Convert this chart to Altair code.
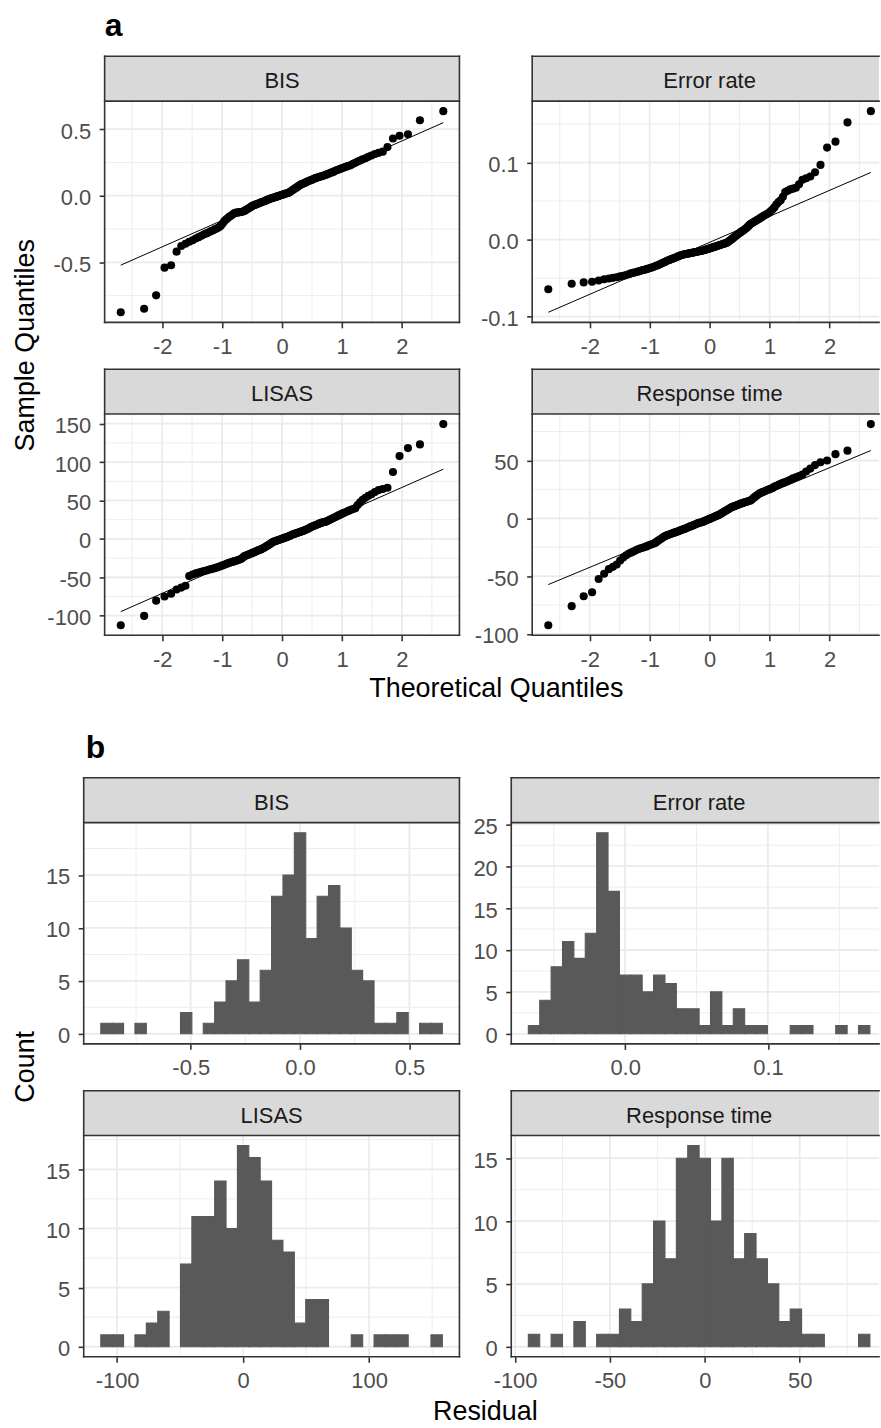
import math
from statistics import NormalDist

import numpy as np
import pandas as pd
import altair as alt

# Model residuals for each outcome measure, one value per participant (n = 140).
BIS = [
    -0.875, -0.848, -0.748, -0.540, -0.522, -0.420,
    -0.377, -0.361, -0.346,
    -0.334, -0.321, -0.311, -0.301, -0.290,
    -0.283, -0.275, -0.266, -0.259, -0.251, -0.244, -0.237,
    -0.226, -0.209, -0.191,
    -0.178, -0.169, -0.158, -0.151, -0.143, -0.134,
    -0.128, -0.127, -0.125, -0.124, -0.122, -0.120, -0.117, -0.112, -0.106, -0.100, -0.094, -0.088, -0.082,
    -0.076, -0.072, -0.069, -0.065, -0.062, -0.058, -0.055, -0.051, -0.048, -0.045, -0.041, -0.038, -0.035, -0.031, -0.028,
    -0.024, -0.021, -0.019, -0.016, -0.013, -0.011, -0.008, -0.005, -0.003, 0.000,
    0.003, 0.006, 0.008, 0.011, 0.013, 0.016, 0.019, 0.021, 0.024,
    0.030, 0.035, 0.041, 0.046, 0.052, 0.057, 0.063, 0.068, 0.074,
    0.081, 0.085, 0.089, 0.092, 0.096, 0.100, 0.104, 0.108, 0.112, 0.116, 0.119, 0.123, 0.127,
    0.132, 0.135, 0.138, 0.141, 0.144, 0.147, 0.150, 0.154, 0.158, 0.162, 0.166, 0.170, 0.175, 0.179,
    0.186, 0.191, 0.195, 0.200, 0.205, 0.210, 0.215, 0.220, 0.225, 0.230,
    0.240, 0.248, 0.257, 0.265, 0.273, 0.281,
    0.292, 0.302, 0.313, 0.322, 0.331,
    0.365, 0.430, 0.450, 0.462, 0.567, 0.635,
]

ERROR_RATE = [
    -0.0645,
    -0.0574, -0.0556, -0.0547, -0.0531,
    -0.0514, -0.0506, -0.0497, -0.0489, -0.0478, -0.0469, -0.0461, -0.0449,
    -0.0436, -0.0429, -0.0421, -0.0413, -0.0404, -0.0397, -0.0391, -0.0384, -0.0377, -0.0369, -0.0362,
    -0.0354, -0.0347, -0.0337, -0.0329, -0.0321, -0.0310, -0.0302, -0.0294, -0.0285,
    -0.0276, -0.0269, -0.0262, -0.0254, -0.0249, -0.0241, -0.0236, -0.0229, -0.0221, -0.0216, -0.0208, -0.0203,
    -0.0197, -0.0194, -0.0190, -0.0188, -0.0184, -0.0181, -0.0179, -0.0175, -0.0172, -0.0170, -0.0166, -0.0163,
    -0.0161, -0.0157, -0.0154, -0.0152, -0.0148, -0.0145, -0.0141, -0.0138, -0.0135, -0.0130, -0.0127, -0.0123,
    -0.0118, -0.0113, -0.0108, -0.0104, -0.0099, -0.0095, -0.0089, -0.0086, -0.0080, -0.0076, -0.0071, -0.0067,
    -0.0061, -0.0057, -0.0053, -0.0047, -0.0043,
    -0.0034, -0.0025, -0.0012, -0.0003, 0.0009, 0.0022, 0.0032,
    0.0047, 0.0057, 0.0071, 0.0081, 0.0093, 0.0106, 0.0115,
    0.0128, 0.0141, 0.0154, 0.0171, 0.0187,
    0.0204, 0.0216, 0.0224, 0.0237, 0.0246, 0.0259, 0.0271,
    0.0286, 0.0296, 0.0311, 0.0321, 0.0336, 0.0349,
    0.0371, 0.0394, 0.0421,
    0.0459, 0.0488, 0.0511,
    0.0556,
    0.0616, 0.0633, 0.0651, 0.0661, 0.0673,
    0.0719,
    0.0776, 0.0796, 0.0819,
    0.0874, 0.0969, 0.1194, 0.1271, 0.1521, 0.1667,
]

LISAS = [
    -112.5, -100.4, -80.5, -75.0, -71.5, -66.0, -63.5, -61.0,
    -48.5, -46.5, -45.0, -44.0, -43.0, -42.0, -41.2,
    -40.2, -39.5, -38.8, -38.0, -37.2, -36.4, -35.5, -34.6, -33.7, -32.8, -32.0,
    -31.2, -30.6, -30.0, -29.4, -28.8, -28.2, -27.6, -27.0, -26.2, -25.0, -23.4,
    -22.2, -21.6, -21.0, -20.3, -19.6, -19.0, -18.3, -17.6, -17.0, -16.3, -15.6, -15.0, -14.4, -13.8,
    -13.1, -12.3, -11.5, -10.7, -9.8, -9.0, -8.1, -7.2, -6.2, -5.2,
    -4.1, -3.6, -3.1, -2.6, -2.1, -1.6, -1.1, -0.6, -0.1, 0.4, 0.9, 1.4, 1.9, 2.4, 2.9, 3.4, 3.9,
    4.9, 5.5, 6.0, 6.5, 7.0, 7.5, 8.0, 8.5, 9.0, 9.5, 10.0, 10.6, 11.2, 11.8, 12.4, 13.0,
    14.2, 14.9, 15.6, 16.3, 17.0, 17.7, 18.4, 19.1, 19.8, 20.5, 21.1, 21.6, 22.0, 22.4,
    23.2, 24.2, 25.2, 26.2, 27.2, 28.2, 29.2, 30.2, 31.2,
    32.5, 33.5, 34.5, 35.6, 36.7, 37.8, 38.9, 40.0,
    44.0, 47.5,
    51.0, 53.5, 56.0, 58.0,
    61.0, 63.5, 65.0, 66.5,
    87.0, 107.8, 118.2, 123.0, 149.5,
]

RESPONSE_TIME = [
    -92.5, -76.0, -67.5, -64.0, -52.5, -48.0,
    -44.0, -42.0, -40.0, -36.5, -34.0,
    -32.0, -30.5, -29.5, -28.5, -27.5,
    -26.6, -26.0, -25.5, -24.9, -24.3, -23.6, -23.0, -22.4, -21.8, -21.3,
    -20.2, -19.3, -18.4, -17.5, -16.6, -15.8, -15.3,
    -14.6, -14.2, -13.8, -13.4, -13.0, -12.6, -12.2, -11.8, -11.4, -11.0, -10.6, -10.2, -9.8, -9.5, -9.2,
    -8.6, -8.2, -7.8, -7.4, -7.0, -6.6, -6.2, -5.8, -5.4, -5.0, -4.6, -4.2, -3.9, -3.6, -3.4, -3.2,
    -2.7, -2.3, -1.9, -1.5, -1.1, -0.7, -0.3, 0.1, 0.5, 0.9, 1.3, 1.7, 2.1, 2.5, 2.8,
    3.5, 4.0, 4.6, 5.2, 5.8, 6.3, 6.9, 7.4, 8.0, 8.6,
    9.3, 9.7, 10.1, 10.5, 10.9, 11.3, 11.7, 12.1, 12.5, 12.9, 13.3, 13.7, 14.0, 14.3, 14.7,
    15.1, 15.4, 16.5, 17.5, 18.5, 19.5, 20.4,
    21.4, 22.0, 22.6, 23.2, 23.8, 24.4, 25.0, 25.6, 26.3,
    27.4, 28.2, 29.0, 29.8, 30.6, 31.4, 32.3,
    33.4, 34.5, 35.5, 36.5, 37.8,
    40.5, 43.0, 46.0, 48.5, 50.0, 55.5, 58.5, 81.5,
]

MEASURES = ["BIS", "Error rate", "LISAS", "Response time"]
RESIDUALS = dict(zip(MEASURES, [BIS, ERROR_RATE, LISAS, RESPONSE_TIME]))

QQ_X_TICKS = [-2, -1, 0, 1, 2]
QQ_Y_TICKS = {
    "BIS": [-0.5, 0.0, 0.5],
    "Error rate": [-0.1, 0.0, 0.1],
    "LISAS": [-100, -50, 0, 50, 100, 150],
    "Response time": [-100, -50, 0, 50],
}
HIST_X_TICKS = {
    "BIS": [-0.5, 0.0, 0.5],
    "Error rate": [0.0, 0.1],
    "LISAS": [-100, 0, 100],
    "Response time": [-100, -50, 0, 50],
}
HIST_Y_TICKS = {
    "BIS": [0, 5, 10, 15],
    "Error rate": [0, 5, 10, 15, 20, 25],
    "LISAS": [0, 5, 10, 15],
    "Response time": [0, 5, 10, 15],
}
VALUE_FORMAT = {"BIS": ".1f", "Error rate": ".1f", "LISAS": "d", "Response time": "d"}
N_BINS = 30

FONT = "Liberation Sans"
INK = "#333333"
LABEL_INK = "#4D4D4D"
STRIP_INK = "#1A1A1A"
GRID = "#EBEBEB"
STRIP_FILL = "#D9D9D9"
BAR_FILL = "#595959"
STRIP_H = 45
TICK_FONT = 22
TITLE_FONT = 27

NORMAL = NormalDist()
ONE = pd.DataFrame({"k": [0]})


def expand(lo, hi, mult=0.05):
    pad = (hi - lo) * mult
    return [float(lo - pad), float(hi + pad)]


def qq_points(values):
    y = np.sort(np.asarray(values, dtype=float))
    n = y.size
    x = np.array([NORMAL.inv_cdf((i + 0.5) / n) for i in range(n)])
    return pd.DataFrame({"x": x, "y": y})


def qq_line(values, x_lo, x_hi):
    q1, q3 = np.quantile(np.asarray(values, dtype=float), [0.25, 0.75])
    z1, z3 = NORMAL.inv_cdf(0.25), NORMAL.inv_cdf(0.75)
    slope = (q3 - q1) / (z3 - z1)
    intercept = q1 - slope * z1
    xs = np.array([x_lo, x_hi])
    return pd.DataFrame({"x": xs, "y": intercept + slope * xs})


def histogram(values, bins=N_BINS):
    """Bins of width range/(bins-1) aligned on half-widths, right-closed."""
    v = np.asarray(values, dtype=float)
    lo, hi = v.min(), v.max()
    width = (hi - lo) / (bins - 1)
    boundary = width / 2
    origin = boundary + math.floor((lo - boundary) / width) * width
    last = hi + (1 - 1e-8) * width
    n_breaks = int(math.floor((last - origin) / width + 1e-10)) + 1
    breaks = origin + width * np.arange(n_breaks)
    idx = np.clip(np.searchsorted(breaks, v, side="left") - 1, 0, n_breaks - 2)
    counts = np.bincount(idx, minlength=n_breaks - 1)
    df = pd.DataFrame({"x": breaks[:-1], "x2": breaks[1:], "y": counts, "y0": 0})
    return df[df["y"] > 0], float(breaks[0]), float(breaks[-1]), int(counts.max())


def minor_breaks(ticks, dom):
    step = ticks[1] - ticks[0]
    cands = [ticks[0] - step / 2 + k * step for k in range(len(ticks) + 1)]
    return [c for c in cands if dom[0] <= c <= dom[1]]


def in_domain(ticks, dom):
    return [t for t in ticks if dom[0] <= t <= dom[1]]


def make_axis(values, fmt, orient, shift=0):
    opts = dict(
        values=values, format=fmt,
        labelExpr="replace(datum.label, '\u2212', '-')",
        grid=False, domain=False, ticks=True, tickColor=INK, tickWidth=1.6, tickSize=5.5,
        labelFont=FONT, labelFontSize=TICK_FONT, labelColor=LABEL_INK,
        labelFlush=False, labelOverlap=False, title=None,
    )
    if orient == "x":
        opts.update(labelPadding=8.5)
    else:
        opts.update(labelPadding=8.5, labelOffset=2, offset=-shift)
    return alt.Axis(**opts)


def text_layer(text, x, y, size, weight="normal", angle=0, color="black", align="center"):
    return alt.Chart(pd.DataFrame({"t": [text]})).mark_text(
        font=FONT, fontSize=size, fontWeight=weight, angle=angle, color=color,
        align=align, baseline="alphabetic",
    ).encode(text="t:N", x=alt.value(x), y=alt.value(y))


def segment(x1, y1, x2, y2):
    return alt.Chart(ONE).mark_rule(color=INK, strokeWidth=1.6, strokeCap="square").encode(
        x=alt.value(x1), x2=alt.value(x2), y=alt.value(y1), y2=alt.value(y2)
    )


def panel(name, kind, cell_w, x0, full_w, height, right_border, strip_base, extras=()):
    """One facet: plot drawn between x0 and cell_w inside its cell; full_w is the uncut panel width."""
    vals = RESIDUALS[name]
    if kind == "qq":
        pts = qq_points(vals)
        line = qq_line(vals, pts["x"].min(), pts["x"].max())
        xdom = expand(pts["x"].min(), pts["x"].max())
        ydom = expand(min(pts["y"].min(), line["y"].min()), max(pts["y"].max(), line["y"].max()))
        xt, yt = QQ_X_TICKS, QQ_Y_TICKS[name]
        xfmt, yfmt = "d", VALUE_FORMAT[name]
    else:
        bars, lo, hi, top = histogram(vals)
        xdom = expand(lo, hi)
        ydom = expand(0, top)
        xt, yt = HIST_X_TICKS[name], HIST_Y_TICKS[name]
        xfmt, yfmt = VALUE_FORMAT[name], "d"
    vis_w = cell_w - x0
    # a panel narrower than its full width shows only the left part of its range
    xdom = [xdom[0], xdom[0] + (xdom[1] - xdom[0]) * vis_w / full_w]
    xs = alt.Scale(domain=xdom, range=[x0, cell_w], nice=False, zero=False)
    ys = alt.Scale(domain=ydom, nice=False, zero=False)
    xax = make_axis(xt, xfmt, "x")
    yax = make_axis(yt, yfmt, "y", shift=x0)

    def X():
        return alt.X("x:Q", scale=xs, axis=xax)

    def Y():
        return alt.Y("y:Q", scale=ys, axis=yax)

    # grid lines (minor thin, major thicker), kept inside the visible panel
    layers = [
        alt.Chart(pd.DataFrame({"x": minor_breaks(xt, xdom)})).mark_rule(
            color=GRID, strokeWidth=0.9).encode(x=X()),
        alt.Chart(pd.DataFrame({"x": in_domain(xt, xdom)})).mark_rule(
            color=GRID, strokeWidth=1.8).encode(x=X()),
        alt.Chart(pd.DataFrame({"y": minor_breaks(yt, ydom)})).mark_rule(
            color=GRID, strokeWidth=0.9).encode(y=Y(), x=alt.value(x0), x2=alt.value(cell_w)),
        alt.Chart(pd.DataFrame({"y": in_domain(yt, ydom)})).mark_rule(
            color=GRID, strokeWidth=1.8).encode(y=Y(), x=alt.value(x0), x2=alt.value(cell_w)),
    ]
    if kind == "qq":
        layers.append(
            alt.Chart(pts).mark_circle(size=66, color="black", opacity=1).encode(x=X(), y=Y())
        )
        layers.append(alt.Chart(line).mark_line(color="black", strokeWidth=1).encode(x=X(), y=Y()))
    else:
        layers.append(
            alt.Chart(bars).mark_rect(
                color=BAR_FILL, stroke=BAR_FILL, strokeWidth=1.1, opacity=1,
                fillOpacity=1, strokeOpacity=1,
            ).encode(x=X(), x2="x2:Q", y=Y(), y2="y0:Q")
        )
    # facet strip
    layers.append(
        alt.Chart(ONE).mark_rect(color=STRIP_FILL, opacity=1).encode(
            x=alt.value(x0), x2=alt.value(cell_w), y=alt.value(-STRIP_H), y2=alt.value(0))
    )
    layers.append(text_layer(name, x0 + full_w / 2, strip_base, TICK_FONT, color=STRIP_INK))
    # panel and strip borders
    layers += [
        segment(x0, -STRIP_H, cell_w, -STRIP_H),
        segment(x0, 0, cell_w, 0),
        segment(x0, height, cell_w, height),
        segment(x0, -STRIP_H, x0, height),
    ]
    if right_border:
        layers.append(segment(cell_w, -STRIP_H, cell_w, height))
    layers += list(extras)
    return alt.layer(*layers).properties(width=cell_w, height=height)


LEFT_W, RIGHT_W = 377, 369
COL_GAP, ROW_GAP = 52, 92
QQ_SHIFT, QQ_FULL, HIST_FULL = 21, 356, 377
ROW_H = 222

# Section a: normal Q-Q plots
a_bis = panel("BIS", "qq", LEFT_W, QQ_SHIFT, QQ_FULL, ROW_H, True, -13, extras=[
    alt.Chart(ONE).mark_rect(color="white").encode(
        x=alt.value(-83), x2=alt.value(-82), y=alt.value(-98), y2=alt.value(-97)),
    text_layer("a", QQ_SHIFT, -65, 32, weight="bold", align="left"),
    text_layer("Sample Quantiles", -50, 245, TITLE_FONT, angle=270),
])
a_err = panel("Error rate", "qq", RIGHT_W, QQ_SHIFT, QQ_FULL, ROW_H, False, -13)
a_lis = panel("LISAS", "qq", LEFT_W, QQ_SHIFT, QQ_FULL, ROW_H, True, -13, extras=[
    text_layer("Theoretical Quantiles", 414, 284, TITLE_FONT),
])
a_rt = panel("Response time", "qq", RIGHT_W, QQ_SHIFT, QQ_FULL, ROW_H, False, -13)

# Section b: histograms of the residuals
b_bis = panel("BIS", "hist", LEFT_W, 0, HIST_FULL, ROW_H, True, -12.5, extras=[
    text_layer("b", 2, -65, 32, weight="bold", align="left"),
    text_layer("Count", -50, 245, TITLE_FONT, angle=270),
])
b_err = panel("Error rate", "hist", RIGHT_W, 0, HIST_FULL, ROW_H, False, -12.5)
b_lis = panel("LISAS", "hist", LEFT_W, 0, HIST_FULL, ROW_H, True, -12.5, extras=[
    text_layer("Residual", 403, 285, TITLE_FONT),
])
b_rt = panel("Response time", "hist", RIGHT_W, 0, HIST_FULL, ROW_H, False, -12.5)


def gap_cell():
    return alt.Chart(ONE).mark_point(opacity=0).encode(
        x=alt.value(0), y=alt.value(0)).properties(width=1, height=4)


chart = alt.concat(
    a_bis, a_err,
    a_lis, a_rt,
    gap_cell(), gap_cell(),
    b_bis, b_err,
    b_lis, b_rt,
    columns=2,
    spacing=alt.RowColnumber(row=ROW_GAP, column=COL_GAP),
    bounds="flush",
).properties(padding=0, background="white").configure_view(stroke="transparent")

chart.save("out.html", embed_options={"renderer": "svg", "actions": False})
